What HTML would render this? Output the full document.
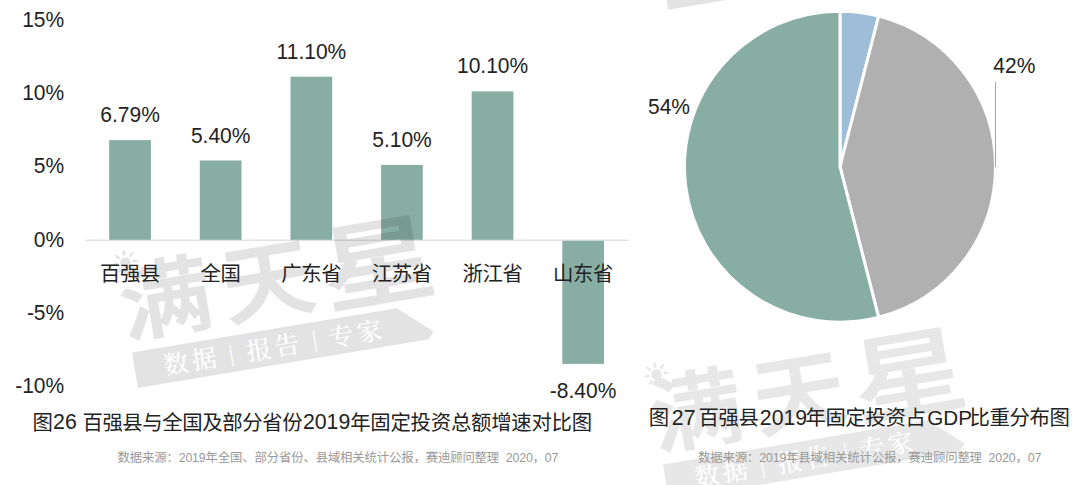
<!DOCTYPE html>
<html lang="zh-CN"><head><meta charset="utf-8"><title>图26 图27</title>
<style>html,body{margin:0;padding:0;background:#fff;}body{width:1080px;height:485px;overflow:hidden;}svg{display:block;}</style>
</head><body>
<svg width="1080" height="485" viewBox="0 0 1080 485">
<rect width="1080" height="485" fill="#ffffff"/>
<defs><g id="wm">
<text x="-2" y="0" transform="translate(0,-4) scale(1,0.92)" font-family='"Noto Sans CJK SC","Liberation Sans",sans-serif' font-weight="500" font-size="92" letter-spacing="12" fill="#000" stroke="#000" stroke-width="1.8">满天</text>
<text x="0" y="0" transform="translate(203,0) scale(1.116,0.935)" font-family='"Noto Sans CJK SC","Liberation Sans",sans-serif' font-weight="500" font-size="101" fill="#000" stroke="#000" stroke-width="1.8">星</text>
<polygon points="2,13 270.5,13 303,42 297,49 2,49" fill="#000"/>
<g stroke="#000" stroke-width="2.4" stroke-linecap="round" fill="none" transform="translate(10.4,-76.8)">
<circle cx="0" cy="0" r="5.2" fill="#000" stroke="none"/>
<line x1="0" y1="-8.2" x2="0" y2="-11.2"/><line x1="0" y1="8.2" x2="0" y2="11.2"/><line x1="-8.2" y1="0" x2="-11.2" y2="0"/><line x1="8.2" y1="0" x2="11.2" y2="0"/>
<line x1="-5.8" y1="-5.8" x2="-7.9" y2="-7.9"/><line x1="5.8" y1="-5.8" x2="7.9" y2="-7.9"/><line x1="-5.8" y1="5.8" x2="-7.9" y2="7.9"/><line x1="5.8" y1="5.8" x2="7.9" y2="7.9"/>
</g>
<g font-family='"Noto Serif CJK SC","Liberation Serif",serif' font-weight="500" font-size="25" fill="#fff" letter-spacing="3.5">
<text x="31" y="40.5">数据</text><text x="115" y="40.5">报告</text><text x="198.5" y="40.5">专家</text>
<text x="96.5" y="38" font-size="20" letter-spacing="0">|</text><text x="181" y="38" font-size="20" letter-spacing="0">|</text>
</g>
</g></defs>
<text transform="translate(64.2,26.5) scale(1,1.05)" text-anchor="end" font-family='"Liberation Sans","Noto Sans CJK SC",sans-serif' font-size="21.0" fill="#222222">15%</text>
<text transform="translate(64.2,99.8) scale(1,1.05)" text-anchor="end" font-family='"Liberation Sans","Noto Sans CJK SC",sans-serif' font-size="21.0" fill="#222222">10%</text>
<text transform="translate(64.2,173.2) scale(1,1.05)" text-anchor="end" font-family='"Liberation Sans","Noto Sans CJK SC",sans-serif' font-size="21.0" fill="#222222">5%</text>
<text transform="translate(64.2,246.5) scale(1,1.05)" text-anchor="end" font-family='"Liberation Sans","Noto Sans CJK SC",sans-serif' font-size="21.0" fill="#222222">0%</text>
<text transform="translate(64.2,319.8) scale(1,1.05)" text-anchor="end" font-family='"Liberation Sans","Noto Sans CJK SC",sans-serif' font-size="21.0" fill="#222222">-5%</text>
<text transform="translate(64.2,393.1) scale(1,1.05)" text-anchor="end" font-family='"Liberation Sans","Noto Sans CJK SC",sans-serif' font-size="21.0" fill="#222222">-10%</text>
<line x1="84.8" y1="240.2" x2="629" y2="240.2" stroke="#d4d4d4" stroke-width="1"/>
<rect x="109.2" y="140.1" width="41.7" height="99.7" fill="#88ada3"/>
<rect x="199.8" y="160.5" width="41.7" height="79.3" fill="#88ada3"/>
<rect x="290.5" y="76.7" width="41.7" height="163.1" fill="#88ada3"/>
<rect x="381.1" y="164.9" width="41.7" height="74.9" fill="#88ada3"/>
<rect x="471.7" y="91.4" width="41.7" height="148.4" fill="#88ada3"/>
<rect x="562.3" y="240.8" width="41.7" height="123.1" fill="#88ada3"/>
<use href="#wm" transform="translate(127.9,340) rotate(-9.5)" opacity="0.105"/>
<use href="#wm" transform="translate(658.1,-38.3) rotate(-9.5)" opacity="0.105"/>
<use href="#wm" transform="translate(658.9,452) rotate(-9.5)" opacity="0.09"/>
<text transform="translate(130.1,122.1) scale(1,1.05)" text-anchor="middle" font-family='"Liberation Sans","Noto Sans CJK SC",sans-serif' font-size="21.0" fill="#222222">6.79%</text>
<text x="129.9" y="281.0" text-anchor="middle" font-family='"Liberation Sans","Noto Sans CJK SC",sans-serif' font-size="20.4" letter-spacing="-0.4" fill="#222222">百强县</text>
<text transform="translate(220.7,142.5) scale(1,1.05)" text-anchor="middle" font-family='"Liberation Sans","Noto Sans CJK SC",sans-serif' font-size="21.0" fill="#222222">5.40%</text>
<text x="220.5" y="281.0" text-anchor="middle" font-family='"Liberation Sans","Noto Sans CJK SC",sans-serif' font-size="20.4" letter-spacing="-0.4" fill="#222222">全国</text>
<text transform="translate(311.4,58.7) scale(1,1.05)" text-anchor="middle" font-family='"Liberation Sans","Noto Sans CJK SC",sans-serif' font-size="21.0" fill="#222222">11.10%</text>
<text x="311.2" y="281.0" text-anchor="middle" font-family='"Liberation Sans","Noto Sans CJK SC",sans-serif' font-size="20.4" letter-spacing="-0.4" fill="#222222">广东省</text>
<text transform="translate(402.0,146.9) scale(1,1.05)" text-anchor="middle" font-family='"Liberation Sans","Noto Sans CJK SC",sans-serif' font-size="21.0" fill="#222222">5.10%</text>
<text x="401.8" y="281.0" text-anchor="middle" font-family='"Liberation Sans","Noto Sans CJK SC",sans-serif' font-size="20.4" letter-spacing="-0.4" fill="#222222">江苏省</text>
<text transform="translate(492.6,73.4) scale(1,1.05)" text-anchor="middle" font-family='"Liberation Sans","Noto Sans CJK SC",sans-serif' font-size="21.0" fill="#222222">10.10%</text>
<text x="492.4" y="281.0" text-anchor="middle" font-family='"Liberation Sans","Noto Sans CJK SC",sans-serif' font-size="20.4" letter-spacing="-0.4" fill="#222222">浙江省</text>
<text transform="translate(583.1,398.2) scale(1,1.05)" text-anchor="middle" font-family='"Liberation Sans","Noto Sans CJK SC",sans-serif' font-size="21.0" fill="#222222">-8.40%</text>
<text x="582.9" y="281.0" text-anchor="middle" font-family='"Liberation Sans","Noto Sans CJK SC",sans-serif' font-size="20.4" letter-spacing="-0.4" fill="#222222">山东省</text>
<text font-family='"Liberation Sans","Noto Sans CJK SC",sans-serif' fill="#222222"><tspan x="32.4" y="429.8" font-size="20.4" letter-spacing="-0.4">图</tspan><tspan x="53.1" y="429.3" font-size="21.3" letter-spacing="0">26 </tspan><tspan x="82.4" y="429.8" font-size="20.4" letter-spacing="-0.4">百强县与全国及部分省份</tspan><tspan x="302.9" y="429.3" font-size="21.3" letter-spacing="0">2019</tspan><tspan x="350.2" y="429.8" font-size="20.4" letter-spacing="-0.25">年固定投资总额增速对比图</tspan></text>
<text x="117.5" y="462.3" textLength="441" font-family='"Liberation Sans","Noto Sans CJK SC",sans-serif' font-size="12.4" xml:space="preserve" fill="#999999">数据来源：2019年全国、部分省份、县域相关统计公报，赛迪顾问整理  2020，07</text>
<path d="M840.0,166.7 L840.00,11.20 A155.5,155.5 0 0 1 878.67,16.09 Z" fill="#9ebdd8" stroke="#ffffff" stroke-width="3" stroke-linejoin="round"/>
<path d="M840.0,166.7 L878.67,16.09 A155.5,155.5 0 0 1 878.67,317.31 Z" fill="#b0b0b0" stroke="#ffffff" stroke-width="3" stroke-linejoin="round"/>
<path d="M840.0,166.7 L878.67,317.31 A155.5,155.5 0 1 1 840.00,11.20 Z" fill="#88ada3" stroke="#ffffff" stroke-width="3" stroke-linejoin="round"/>
<line x1="995.5" y1="82" x2="995.5" y2="167" stroke="#a6a6a6" stroke-width="1"/>
<text transform="translate(1014.3,72.8) scale(1,1.05)" text-anchor="middle" font-family='"Liberation Sans","Noto Sans CJK SC",sans-serif' font-size="21.0" fill="#222222">42%</text>
<text transform="translate(669.0,113.5) scale(1,1.05)" text-anchor="middle" font-family='"Liberation Sans","Noto Sans CJK SC",sans-serif' font-size="21.0" fill="#222222">54%</text>
<text font-family='"Liberation Sans","Noto Sans CJK SC",sans-serif' fill="#222222"><tspan x="648.7" y="425.3" font-size="20.4" letter-spacing="-0.4">图</tspan><tspan x="671.8" y="424.8" font-size="21.3" letter-spacing="0">27 </tspan><tspan x="698.6" y="425.3" font-size="20.4" letter-spacing="-0.4">百强县</tspan><tspan x="759.8" y="424.8" font-size="21.3" letter-spacing="0">2019</tspan><tspan x="805.5" y="425.3" font-size="20.4" letter-spacing="-0.4">年固定投资占</tspan><tspan x="927.3" y="424.8" font-size="20.6" letter-spacing="0">GDP</tspan><tspan x="969.5" y="425.3" font-size="20.4" letter-spacing="-0.4">比重分布图</tspan></text>
<text x="698.0" y="462.3" textLength="343.3" font-family='"Liberation Sans","Noto Sans CJK SC",sans-serif' font-size="12.4" xml:space="preserve" fill="#999999">数据来源：2019年县域相关统计公报，赛迪顾问整理  2020，07</text>
</svg>
</body></html>
